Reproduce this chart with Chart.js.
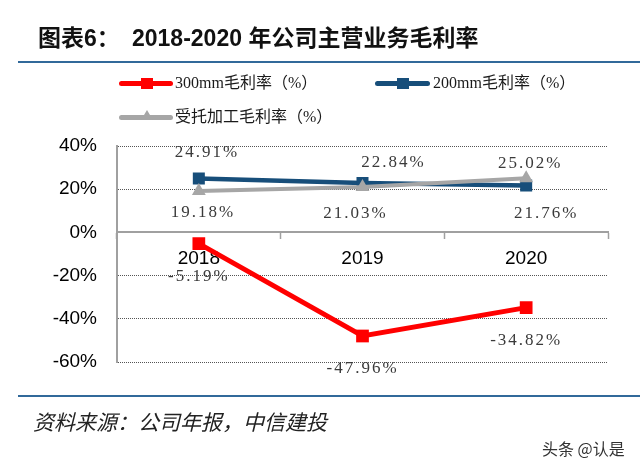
<!DOCTYPE html>
<html lang="zh">
<head>
    <meta charset="UTF-8" />
    <script src="https://cdn.jsdelivr.net/npm/chart.js@4"></script>
    <title>2018-2020 年公司主营业务毛利率</title>
    <style>
        body {
            margin: 0;
            width: 640px;
            height: 469px;
            background: #fff;
            position: relative;
            overflow: hidden;
            font-family: "Liberation Serif", "Noto Sans CJK SC", serif;
        }
        .abs { position: absolute; white-space: nowrap; }
        .title {
            font-family: "Liberation Sans", "Noto Sans CJK SC", sans-serif;
            font-weight: bold;
            font-size: 23px;
            line-height: 23px;
            color: #111;
        }
        .rule { position: absolute; left: 18px; width: 622px; height: 2px; background: #31699a; }
        .leg { font-size: 16px; line-height: 16px; color: #1a1a1a; }
        .swatch { position: absolute; height: 5px; border-radius: 3px; }
        .mark { position: absolute; }
        .source {
            font-family: "Noto Sans CJK SC", sans-serif;
            font-style: italic;
            font-size: 21px;
            line-height: 21px;
            color: #222;
        }
        .wm { font-family: "Noto Sans CJK SC", sans-serif; font-size: 16px; line-height: 16px; color: #333; }
        canvas { position: absolute; left: 0; top: 0; }
    </style>
</head>
<body>
<canvas id="myChart" width="640" height="469"></canvas>

<div class="abs title" style="left:38px; top:27px;">图表6：</div>
<div class="abs title" style="left:132px; top:27px;">2018-2020 年公司主营业务毛利率</div>
<div class="rule" style="top:61px;"></div>

<!-- leyenda -->
<div class="swatch" style="left:119px; top:81px; width:54px; background:#ff0000;"></div>
<div class="mark" style="left:141px; top:78px; width:12px; height:11px; background:#ff0000;"></div>
<div class="abs leg" style="left:175px; top:75px;">300mm毛利率（%）</div>

<div class="swatch" style="left:375px; top:81px; width:55px; background:#174e7a;"></div>
<div class="mark" style="left:397px; top:78px; width:12px; height:11px; background:#174e7a;"></div>
<div class="abs leg" style="left:433px; top:75px;">200mm毛利率（%）</div>

<div class="swatch" style="left:119px; top:115px; width:54px; background:#a6a6a6;"></div>
<div class="mark" style="left:141px; top:110px; width:0; height:0; border-left:6px solid transparent; border-right:6px solid transparent; border-bottom:10px solid #a6a6a6;"></div>
<div class="abs leg" style="left:175px; top:109px;">受托加工毛利率（%）</div>

<div class="rule" style="top:395px;"></div>
<div class="abs source" style="left:33px; top:411px;">资料来源：公司年报，中信建投</div>
<div class="abs wm" style="left:542px; top:440px;">头条 @认是</div>

<script>
    const years = ['2018', '2019', '2020'];
    const margin300 = [-5.19, -47.96, -34.82];
    const margin200 = [24.91, 22.84, 21.76];
    const marginOem = [19.18, 21.03, 25.02];
    const yTicks = [40, 20, 0, -20, -40, -60];

    // desplazamiento de cada etiqueta respecto a su punto
    const offsets300 = [[0, 33], [0, 33], [0, 33]];
    const offsets200 = [[8, -26], [31, -21], [20, 28]];
    const offsetsOem = [[4, 22], [-7, 27], [4, -15]];

    const pointLabels = {
        id: 'pointLabels',
        afterDatasetsDraw(chart) {
            const ctx = chart.ctx;
            ctx.save();
            ctx.font = '17px "Liberation Serif", serif';
            ctx.letterSpacing = '2px';
            ctx.fillStyle = '#3a3a3a';
            ctx.textAlign = 'center';
            ctx.textBaseline = 'middle';
            chart.data.datasets.forEach((ds, i) => {
                const meta = chart.getDatasetMeta(i);
                meta.data.forEach((pt, j) => {
                    const off = ds.labelOffsets[j];
                    ctx.fillText(ds.data[j].toFixed(2) + '%', pt.x + off[0], pt.y + off[1]);
                });
            });
            ctx.restore();
        }
    };

    const ctx = document.getElementById('myChart').getContext('2d');

    const myChart = new Chart(ctx, {
        type: 'line',
        data: {
            labels: years,
            datasets: [
                {
                    label: '300mm毛利率（%）',
                    data: margin300,
                    borderColor: '#ff0000',
                    backgroundColor: '#ff0000',
                    borderWidth: 5,
                    pointStyle: 'rect',
                    pointRadius: 9,
                    pointBorderWidth: 0,
                    order: 2,
                    labelOffsets: offsets300
                },
                {
                    label: '200mm毛利率（%）',
                    data: margin200,
                    borderColor: '#174e7a',
                    backgroundColor: '#174e7a',
                    borderWidth: 4.5,
                    pointStyle: 'rect',
                    pointRadius: 8.5,
                    pointBorderWidth: 0,
                    order: 1,
                    labelOffsets: offsets200
                },
                {
                    label: '受托加工毛利率（%）',
                    data: marginOem,
                    borderColor: '#a6a6a6',
                    backgroundColor: '#a6a6a6',
                    borderWidth: 4,
                    pointStyle: 'triangle',
                    pointRadius: 8,
                    pointBorderWidth: 0,
                    order: 0,
                    labelOffsets: offsetsOem
                }
            ]
        },
        options: {
            responsive: false,
            animation: false,
            layout: { padding: { top: 146, bottom: 107, left: 0, right: 32 } },
            plugins: {
                legend: { display: false },
                tooltip: { enabled: false }
            },
            scales: {
                x: {
                    position: { y: 0 },
                    offset: true,
                    grid: {
                        offset: true,
                        drawOnChartArea: false,
                        drawTicks: true,
                        tickLength: 6,
                        tickColor: '#a0a0a0',
                        tickWidth: 1.5
                    },
                    border: { color: '#a0a0a0', width: 2 },
                    ticks: {
                        color: '#000',
                        padding: 9,
                        font: { family: '"Liberation Sans", Arial, sans-serif', size: 19 }
                    }
                },
                y: {
                    min: Math.min(...yTicks),
                    max: Math.max(...yTicks),
                    afterFit: (s) => { s.width = 117; },
                    afterBuildTicks: (s) => { s.ticks = yTicks.map(v => ({ value: v })); },
                    grid: {
                        color: '#555',
                        lineWidth: 1,
                        drawTicks: false
                    },
                    border: { color: '#a0a0a0', width: 2, dash: [1, 1] },
                    ticks: {
                        color: '#000',
                        padding: 20,
                        font: { family: '"Liberation Sans", Arial, sans-serif', size: 19 },
                        callback: (v) => v + '%'
                    }
                }
            }
        },
        plugins: [pointLabels]
    });
</script>
</body>
</html>
